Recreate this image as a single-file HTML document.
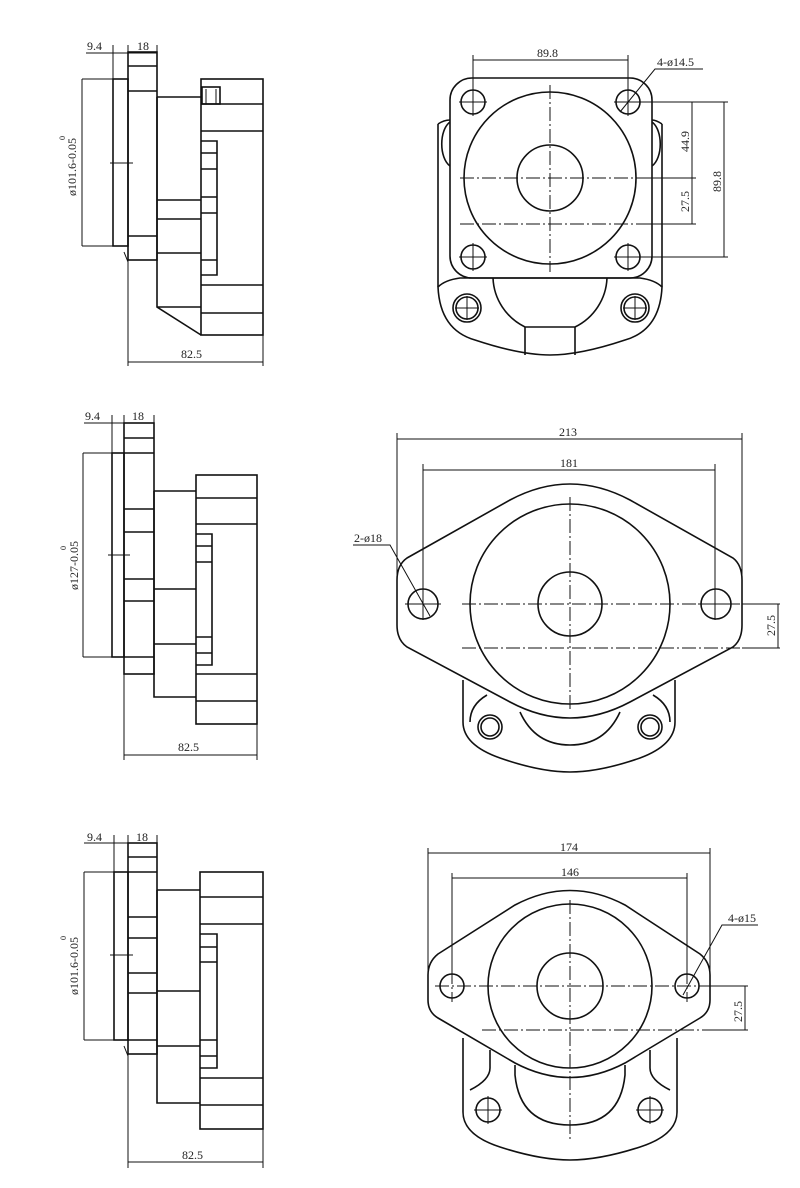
<!DOCTYPE html>
<html><head><meta charset="utf-8"><style>
html,body{margin:0;padding:0;background:#fff}
svg{display:block}
text{font-family:"Liberation Serif","DejaVu Serif",serif;fill:#222;font-size:12px}
.s{fill:none;stroke:#111;stroke-width:1.6}
.t{fill:none;stroke:#111;stroke-width:1}
.c{fill:none;stroke:#111;stroke-width:1;stroke-dasharray:14 3 2 3}
</style></head><body>
<svg width="800" height="1188" viewBox="0 0 800 1188" xmlns="http://www.w3.org/2000/svg">
<!-- ===== SIDE VIEW 1 ===== -->
<g>
<text x="87" y="50">9.4</text><text x="137" y="50">18</text>
<path class="t" d="M86 53H157M113 45V79M128 45V52M157 45V52"/>
<rect class="s" x="113" y="79" width="15" height="167"/>
<rect class="s" x="128" y="52" width="29" height="208"/>
<path class="s" d="M128 66H157M128 91H157M128 236H157"/>
<path class="s" d="M157 97H201M157 97V307L201 335M157 200H201M157 219H201M157 253H201M157 307H201"/>
<rect class="s" x="201" y="79" width="62" height="256"/>
<path class="s" d="M201 104H263M201 131H263M201 285H263M201 313H263"/>
<path class="s" d="M201 141H217V275H201M201 153H217M201 169H217M201 197H217M201 213H217M201 260H217"/>
<rect class="s" x="202" y="87" width="18" height="17"/><path class="t" d="M206 89V104M216 89V104"/>
<path class="t" d="M82 79H113M82 246H113M82 79V246M110 163H133M128 260V366M263 335V366M128 362H263M124 252L128 262"/>
<text transform="translate(76 196) rotate(-90)">ø101.6-0.05</text>
<text transform="translate(65 140) rotate(-90)" style="font-size:8px">0</text>
<text x="181" y="358">82.5</text>
</g>
<!-- ===== SIDE VIEW 2 ===== -->
<g>
<text x="85" y="420">9.4</text><text x="132" y="420">18</text>
<path class="t" d="M84 423H154M112 415V453M124 415V423M154 415V423"/>
<rect class="s" x="112" y="453" width="12" height="204"/>
<rect class="s" x="124" y="423" width="30" height="251"/>
<path class="s" d="M124 438H154M124 453H154M124 509H154M124 532H154M124 579H154M124 601H154M124 657H154"/>
<path class="s" d="M154 491H196M154 491V697H196M154 589H196M154 644H196"/>
<rect class="s" x="196" y="475" width="61" height="249"/>
<path class="s" d="M196 498H257M196 524H257M196 674H257M196 701H257"/>
<path class="s" d="M196 534H212V665H196M196 546H212M196 562H212M196 637H212M196 653H212"/>
<path class="t" d="M83 453H112M83 657H112M83 453V657M108 555H130M124 674V760M257 724V760M124 755H257"/>
<text transform="translate(78 590) rotate(-90)">ø127-0.05</text>
<text transform="translate(66 550) rotate(-90)" style="font-size:8px">0</text>
<text x="178" y="751">82.5</text>
</g>
<!-- ===== SIDE VIEW 3 ===== -->
<g>
<text x="87" y="841">9.4</text><text x="136" y="841">18</text>
<path class="t" d="M84 843H157M114 835V872M128 835V843M157 835V843"/>
<rect class="s" x="114" y="872" width="14" height="168"/>
<rect class="s" x="128" y="843" width="29" height="211"/>
<path class="s" d="M128 857H157M128 872H157M128 917H157M128 938H157M128 973H157M128 993H157M128 1040H157"/>
<path class="s" d="M157 890H200M157 890V1103H200M157 991H200M157 1046H200"/>
<rect class="s" x="200" y="872" width="63" height="257"/>
<path class="s" d="M200 897H263M200 924H263M200 1078H263M200 1105H263"/>
<path class="s" d="M200 934H217V1068H200M200 947H217M200 962H217M200 1040H217M200 1056H217"/>
<path class="t" d="M84 872H114M84 1040H114M84 872V1040M110 955H133M128 1054V1168M263 1129V1168M128 1162H263M124 1046L128 1056"/>
<text transform="translate(78 995) rotate(-90)">ø101.6-0.05</text>
<text transform="translate(66 940) rotate(-90)" style="font-size:8px">0</text>
<text x="182" y="1159">82.5</text>
</g>
<!-- ===== FRONT VIEW 1 ===== -->
<g>
<path class="s" d="M438 124V287M662 124V287"/>
<path class="s" d="M438 124Q444 120 450 120M662 124Q656 120 652 120"/>
<path class="s" d="M450 122C439 130 439 158 450 166M652 122C663 130 663 158 652 166"/>
<path class="s" d="M438 287Q440 330 475 340Q520 355 550 355Q580 355 625 340Q660 330 662 287Q655 280 640 278H460Q445 280 438 287Z"/>
<path class="s" d="M493 278A57 57 0 0 0 525 327H575A57 57 0 0 0 607 278M525 327V355M575 327V355"/>
<circle class="s" cx="467" cy="308" r="14"/><circle class="s" cx="467" cy="308" r="11"/>
<circle class="s" cx="635" cy="308" r="14"/><circle class="s" cx="635" cy="308" r="11"/>
<path class="t" d="M455 308H479M467 296V320M623 308H647M635 296V320"/>
<rect class="s" x="450" y="78" width="202" height="200" rx="22" fill="#fff"/>
<circle class="s" cx="550" cy="178" r="86"/>
<circle class="s" cx="550" cy="178" r="33"/>
<circle class="s" cx="473" cy="102" r="12"/><circle class="s" cx="628" cy="102" r="12"/>
<circle class="s" cx="473" cy="257" r="12"/><circle class="s" cx="628" cy="257" r="12"/>
<path class="t" d="M459 102H487M473 88V116M614 102H642M628 88V116M459 257H487M473 243V271M614 257H642M628 243V271"/>
<path class="c" d="M460 178H640M460 224H640M550 85V272"/>
<path class="t" d="M640 178H696M640 224H696M640 102H728M640 257H728M692 102V224M724 102V257"/>
<path class="t" d="M473 60H628M473 55V90M628 55V90M620 112L655 69H703"/>
<text x="537" y="57">89.8</text>
<text x="657" y="66">4-ø14.5</text>
<text transform="translate(689 152) rotate(-90)">44.9</text>
<text transform="translate(689 212) rotate(-90)">27.5</text>
<text transform="translate(721 192) rotate(-90)">89.8</text>
</g>
<!-- ===== FRONT VIEW 2 ===== -->
<g>
<path class="s" d="M463 680V722Q463 745 500 758Q540 772 570 772Q600 772 640 758Q675 745 675 722V680"/>
<path class="s" d="M487 695Q470 705 470 722"/><path class="s" d="M653 695Q670 705 670 722"/>
<path class="s" d="M520 712Q535 745 570 745Q605 745 620 712"/>
<circle class="s" cx="490" cy="727" r="12"/><circle class="s" cx="490" cy="727" r="9"/>
<circle class="s" cx="650" cy="727" r="12"/><circle class="s" cx="650" cy="727" r="9"/>
<path fill="#fff" class="s" d="M407 558L510 500Q570 468 630 500L733 558Q742 565 742 580V625Q742 640 733 647L630 702Q570 734 510 702L407 647Q397 640 397 625V580Q397 565 407 558Z"/>
<circle class="s" cx="570" cy="604" r="100"/>
<circle class="s" cx="570" cy="604" r="32"/>
<circle class="s" cx="423" cy="604" r="15"/><circle class="s" cx="716" cy="604" r="15"/>
<path class="c" d="M462 604H742M462 648H742M570 497V712"/>
<path class="t" d="M405 604H441M698 604H734M742 604H780M742 648H780M778 604V648"/>
<path class="t" d="M397 439H742M397 433V600M742 433V600M423 470H715M423 464V620M715 464V620"/>
<path class="t" d="M353 545H390L430 616"/>
<text x="559" y="436">213</text>
<text x="560" y="467">181</text>
<text x="354" y="542">2-ø18</text>
<text transform="translate(775 636) rotate(-90)">27.5</text>
</g>
<!-- ===== FRONT VIEW 3 ===== -->
<g>
<path class="s" d="M463 1038V1112Q463 1135 500 1147Q540 1160 570 1160Q600 1160 640 1147Q677 1135 677 1112V1038"/>
<path class="s" d="M490 1050V1068Q490 1080 470 1090M650 1050V1068Q650 1080 670 1090"/>
<path class="s" d="M515 1065V1075Q520 1125 570 1125Q620 1125 625 1075V1065"/>
<circle class="s" cx="488" cy="1110" r="12"/><circle class="s" cx="650" cy="1110" r="12"/>
<path class="t" d="M474 1110H502M488 1096V1124M636 1110H664M650 1096V1124"/>
<path fill="#fff" class="s" d="M438 954L515 905Q570 876 625 905L700 954Q710 962 710 975V1000Q710 1012 700 1018L625 1063Q570 1092 515 1063L438 1018Q428 1012 428 1000V975Q428 962 438 954Z"/>
<circle class="s" cx="570" cy="986" r="82"/>
<circle class="s" cx="570" cy="986" r="33"/>
<circle class="s" cx="452" cy="986" r="12"/><circle class="s" cx="687" cy="986" r="12"/>
<path class="c" d="M435 986H710M482 1030H710M570 900V1140M452 970V1002M687 970V1002"/>
<path class="t" d="M710 986H748M710 1030H748M745 986V1030"/>
<path class="t" d="M428 853H710M428 848V985M710 848V985M452 878H687M452 873V970M687 873V970"/>
<path class="t" d="M683 995L722 925H758"/>
<text x="560" y="851">174</text>
<text x="561" y="876">146</text>
<text x="728" y="922">4-ø15</text>
<text transform="translate(742 1022) rotate(-90)">27.5</text>
</g>
</svg>
</body></html>
